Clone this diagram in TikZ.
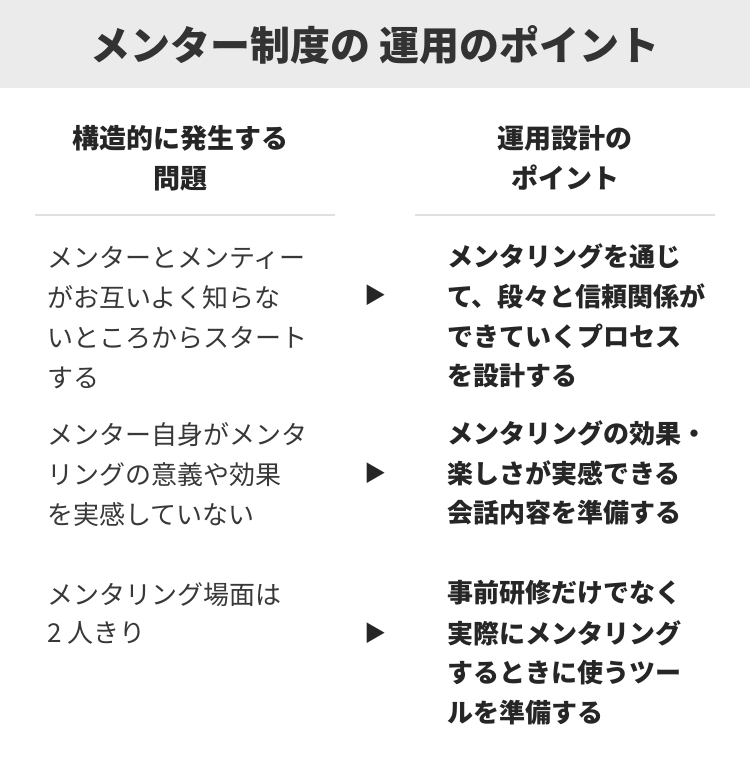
\documentclass[tikz,border=0pt]{standalone}
\usepackage{fontspec}
\setmainfont{Noto Sans CJK JP}
\begin{document}
\begin{tikzpicture}[x=1pt,y=-1pt,
  lt/.style={anchor=west,inner sep=0,text=black!78,font=\fontsize{26}{30}\selectfont},
  rt/.style={anchor=west,inner sep=0,text=black!85,font=\fontsize{26}{30}\selectfont\bfseries},
  hd/.style={inner sep=0,text=black!85,font=\fontsize{27}{40}\selectfont\bfseries,align=center},
  arr/.style={inner sep=0,text=black!85,font=\fontsize{22}{26}\selectfont}]
\useasboundingbox (0,0) rectangle (750,760);
\fill[black!8] (0,0) rectangle (750,88);
\node[inner sep=0,text=black!80,font=\fontsize{40}{44}\selectfont\bfseries] (title) at (375,45) {メンター制度の 運用のポイント};
\node[hd] (h1) at (180,158) {構造的に発生する\\問題};
\node[hd] (h2) at (565,158) {運用設計の\\ポイント};
\draw[black!12,line width=1.2pt] (35,215) -- (335,215);
\draw[black!12,line width=1.2pt] (415,215) -- (715,215);
% row 1
\node[lt] (a1) at (47,258) {メンターとメンティー};
\node[lt] (a2) at (47,298) {がお互いよく知らな};
\node[lt] (a3) at (47,338) {いところからスタート};
\node[lt] (a4) at (47,378) {する};
\node[arr] (p1) at (375,295) {▶};
\node[rt] (b1) at (447,256) {メンタリングを通じ};
\node[rt] (b2) at (447,296) {て、段々と信頼関係が};
\node[rt] (b3) at (447,336) {できていくプロセス};
\node[rt] (b4) at (447,376) {を設計する};
% row 2
\node[lt] (c1) at (47,435) {メンター自身がメンタ};
\node[lt] (c2) at (47,475) {リングの意義や効果};
\node[lt] (c3) at (47,515) {を実感していない};
\node[arr] (p2) at (375,473) {▶};
\node[rt] (d1) at (447,433) {メンタリングの効果・};
\node[rt] (d2) at (447,473) {楽しさが実感できる};
\node[rt] (d3) at (447,513) {会話内容を準備する};
% row 3
\node[lt] (e1) at (47,595) {メンタリング場面は};
\node[lt] (e2) at (47,633) {2 人きり};
\node[arr] (p3) at (375,633) {▶};
\node[rt] (f1) at (447,593) {事前研修だけでなく};
\node[rt] (f2) at (447,633) {実際にメンタリング};
\node[rt] (f3) at (447,673) {するときに使うツー};
\node[rt] (f4) at (447,713) {ルを準備する};
\end{tikzpicture}
\end{document}
